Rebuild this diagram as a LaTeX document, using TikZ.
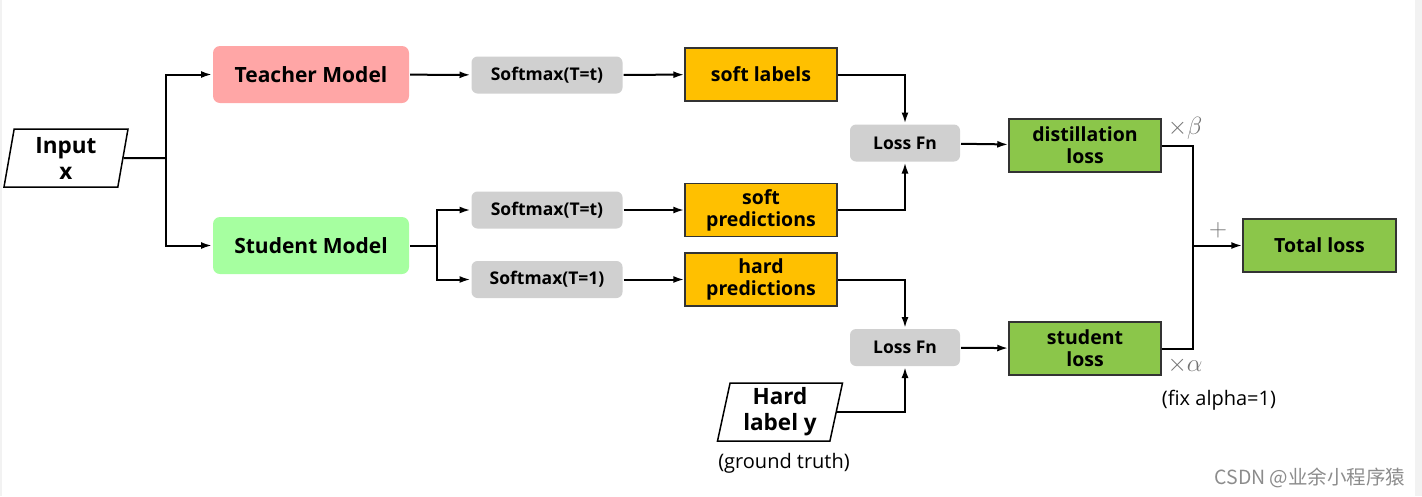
\documentclass[tikz,border=0pt]{standalone}
\usepackage{fontspec}
\setmainfont{Open Sans}
\newfontfamily\cjk{Noto Sans CJK SC}
\usetikzlibrary{arrows.meta,shapes.geometric}

\definecolor{teachercol}{RGB}{255,166,166}
\definecolor{studentcol}{RGB}{166,255,160}
\definecolor{softcol}{RGB}{208,208,208}
\definecolor{predcol}{RGB}{255,192,0}
\definecolor{losscol}{RGB}{139,198,74}

\begin{document}
\begin{tikzpicture}[x=1pt,y=-1pt,
		model/.style={rounded corners=7pt, minimum width=196pt, minimum height=57pt, font=\fontsize{21}{23}\selectfont\bfseries},
		smax/.style={rounded corners=6pt, fill=softcol, minimum width=151pt, minimum height=37pt, font=\fontsize{17.5}{19}\selectfont\bfseries},
		pred/.style={draw=black!80, line width=1.5pt, fill=predcol, minimum width=152pt, minimum height=53pt, inner sep=1pt, align=center, font=\fontsize{19.5}{22}\selectfont\bfseries},
		lossbox/.style={pred, fill=losscol},
		datain/.style={draw, line width=1.5pt, trapezium, trapezium left angle=77, trapezium right angle=103, trapezium stretches body, minimum width=124pt, minimum height=58pt, inner sep=1pt, align=center, font=\fontsize{22.5}{26}\selectfont\bfseries},
		note/.style={font=\fontsize{20}{22}\selectfont},
		weight/.style={text=black!55, font=\fontsize{28}{30}\selectfont},
		every path/.style={line width=2pt},
		conn/.style={-{Latex[length=11pt,width=7pt]}}
	]
	\useasboundingbox (0,0) rectangle (1422,496);
	\fill[black!5] (0,0) rectangle (2,496);
	\fill[black!5] (1415,0) rectangle (1422,496);

	\node[datain] (in) at (66,158) {Input\\x};
	\node[model, fill=teachercol] (teacher) at (311,74.5) {Teacher Model};
	\node[model, fill=studentcol] (student) at (311,245.5) {Student Model};
	\node[smax] (smT) at (547,75) {Softmax(T=t)};
	\node[smax] (smS) at (547,210) {Softmax(T=t)};
	\node[smax] (smH) at (547,279.5) {Softmax(T=1)};
	\node[pred] (softlab) at (761,74.5) {soft labels};
	\node[pred] (softpred) at (761,210) {soft\\predictions};
	\node[pred] (hardpred) at (761,279.5) {hard\\predictions};
	\node[smax, minimum width=110pt] (lossD) at (905,143) {Loss Fn};
	\node[smax, minimum width=110pt] (lossS) at (905,347.5) {Loss Fn};
	\node[datain, trapezium left angle=76, trapezium right angle=104, minimum width=125pt] (hardy) at (780,412) {Hard\\label y};
	\node[note] (gt) at (784,463) {(ground truth)};
	\node[lossbox] (distil) at (1085,145.5) {distillation\\loss};
	\node[lossbox] (stud) at (1085,348.5) {student\\loss};
	\node[lossbox, minimum width=153pt] (total) at (1319.5,245.5) {Total loss};
	\node[weight] (beta) at (1185,128) {$\times\beta$};
	\node[weight] (alpha) at (1185,365) {$\times\alpha$};
	\node[weight] (plus) at (1218,230) {$+$};
	\node[note] (fix) at (1219,400) {(fix alpha=1)};
	\node[text=black!45, font=\cjk\fontsize{19.5}{21}\selectfont] (mark) at (1310,478) {CSDN @业余小程序猿};

	\coordinate (split1) at (166,158);
	\coordinate (split2) at (437,245.5);
	\coordinate (join) at (1193,245.5);

	\draw (in.east) -- (split1);
	\draw[conn] (split1) |- (teacher);
	\draw[conn] (split1) |- (student);
	\draw (student) -- (split2);
	\draw[conn] (split2) |- (smS);
	\draw[conn] (split2) |- (smH);
	\draw[conn] (teacher) -- (smT);
	\draw[conn] (smT) -- (softlab);
	\draw[conn] (smS) -- (softpred);
	\draw[conn] (smH) -- (hardpred);
	\draw[conn] (softlab) -| (lossD);
	\draw[conn] (softpred) -| (lossD);
	\draw[conn] (hardpred) -| (lossS);
	\draw[conn] (hardy.east) -| (lossS);
	\draw[conn] (lossD) -- (distil);
	\draw[conn] (lossS) -- (stud);
	\draw (distil) -| (join);
	\draw (stud) -| (join);
	\draw[conn] (join) -- (total);
\end{tikzpicture}
\end{document}
